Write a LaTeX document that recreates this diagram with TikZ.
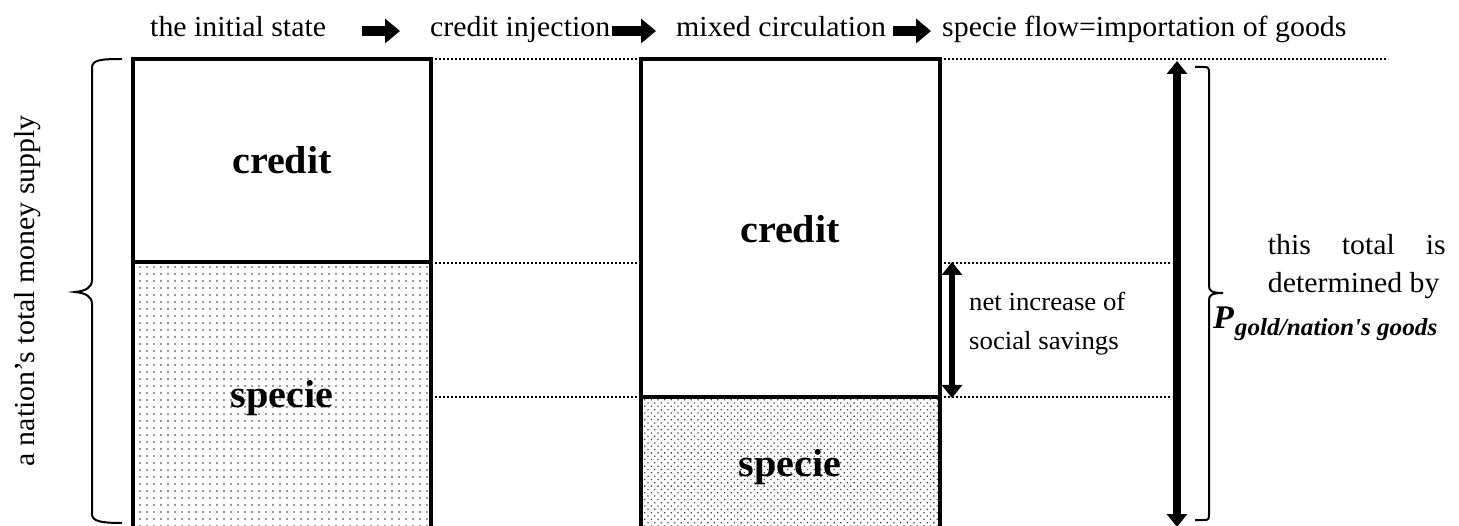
\documentclass[tikz,border=0pt]{standalone}
\usepackage{fontspec}
\setmainfont{Liberation Serif}[FakeStretch=1.03]
\usetikzlibrary{arrows.meta,patterns.meta}

\tikzset{
  bar/.style={line width=3.5pt},
  guide/.style={line width=2pt, dash pattern=on 2pt off 2pt},
  brc/.style={line width=2pt},
  label/.style={font=\fontsize{29}{34}\selectfont, inner sep=0pt, anchor=base west},
  blocklabel/.style={font=\fontsize{39}{42}\selectfont\bfseries, inner sep=0pt, anchor=base},
  fatarrow/.style={line width=10pt, -{Triangle[length=15pt,width=24pt]}},
  bothways/.style={line width=#1, {Triangle[length=13pt,width=20pt]}-{Triangle[length=13pt,width=20pt]}},
  sparse/.style={pattern={Dots[radius=0.8pt,distance=7pt]}, pattern color=black!80},
  dense/.style={pattern={Dots[radius=0.9pt,distance=4.7pt,angle=45]}, pattern color=black!75},
}

\begin{document}
\begin{tikzpicture}[x=1pt,y=-1pt]
\useasboundingbox (0,0) rectangle (1459,526);

% stage captions along the top
\node[label] (s1) at (150,37) {the initial state};
\node[label] (s2) at (430,37) {credit injection};
\node[label] (s3) at (676,37) {mixed circulation};
\node[label] (s4) at (942,37) {specie flow=importation of goods};
\coordinate (a1s) at (362,31); \coordinate (a1e) at (400,31);
\coordinate (a2s) at (612,31); \coordinate (a2e) at (656,31);
\coordinate (a3s) at (893,31); \coordinate (a3e) at (931,31);
\draw[fatarrow] (a1s) -- (a1e);
\draw[fatarrow] (a2s) -- (a2e);
\draw[fatarrow] (a3s) -- (a3e);

% left column: initial state
\fill[sparse] (133,262) rectangle (431,530);
\draw[bar] (133,530) -- (133,59) -- (431,59) -- (431,530);
\draw[bar] (133,262) -- (431,262);
\node[blocklabel] (c1) at (282,174) {credit};
\node[blocklabel] (p1) at (282,407) {specie};

% right column: mixed circulation
\fill[dense] (641,397) rectangle (940,530);
\draw[bar] (641,530) -- (641,59) -- (940,59) -- (940,530);
\draw[bar] (641,397) -- (940,397);
\node[blocklabel] (c2) at (790,243) {credit};
\node[blocklabel] (p2) at (790,476) {specie};

% dotted guide lines
\draw[guide] (431,59) -- (641,59);
\draw[guide] (940,59) -- (1388,59);
\draw[guide] (431,263) -- (641,263);
\draw[guide] (940,263) -- (1172,263);
\draw[guide] (431,397) -- (641,397);
\draw[guide] (940,397) -- (1172,397);

% double-headed arrows
\coordinate (gtop) at (1177,61); \coordinate (gbot) at (1177,527);
\draw[bothways=8pt] (gtop) -- (gbot);
\coordinate (stop) at (952,262); \coordinate (sbot) at (952,398);
\draw[bothways=6pt] (stop) -- (sbot);
\node[label, align=left, font=\fontsize{26}{39}\selectfont, anchor=base west] (gain) at (969,350)
  {net increase of\\social savings};

% left brace and its caption
\draw[brc] (122,59) .. controls (100,59) and (92,60) .. (92,68) -- (92,280)
  .. controls (92,288) and (85,291) .. (75,292)
  .. controls (85,293) and (92,296) .. (92,304) -- (92,514)
  .. controls (92,521) and (100,523) .. (122,523);
\node[font=\fontsize{29}{34}\selectfont, rotate=90, inner sep=0pt, anchor=base] (money) at (34,291)
  {a nation’s total money supply};

% right brace and its caption
\draw[brc] (1195,67) -- (1204,67) .. controls (1208,67) and (1209,68) .. (1209,72) -- (1209,286)
  .. controls (1209,291) and (1212,293) .. (1223,293)
  .. controls (1212,293) and (1209,295) .. (1209,300) -- (1209,515)
  .. controls (1209,519) and (1208,520) .. (1204,520) -- (1195,520);
\node[font=\fontsize{29}{38}\selectfont, inner sep=0pt, anchor=base east, align=justify,
  text width=178pt] (total) at (1446,255)
  {this\hfill total\hfill is\\ \hfill determined by};
\node[inner sep=0pt, anchor=base west] (price) at (1213,329)
  {\fontsize{33}{33}\selectfont\bfseries\itshape P\kern1pt\raisebox{-7pt}{\fontsize{24.5}{25}\selectfont gold/nation\textquotesingle s goods}};
\end{tikzpicture}
\end{document}
